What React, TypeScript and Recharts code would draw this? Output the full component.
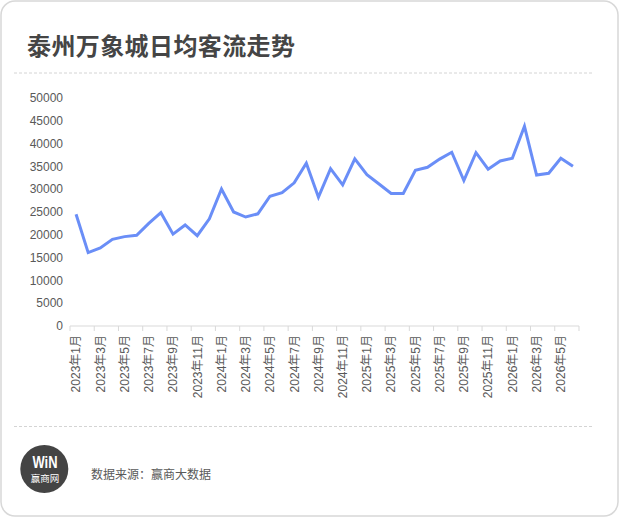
import React from 'react'
import { LineChart, Line, XAxis, YAxis } from 'recharts'

const months = [
  '2023年1月', '2023年2月', '2023年3月', '2023年4月', '2023年5月', '2023年6月',
  '2023年7月', '2023年8月', '2023年9月', '2023年10月', '2023年11月', '2023年12月',
  '2024年1月', '2024年2月', '2024年3月', '2024年4月', '2024年5月', '2024年6月',
  '2024年7月', '2024年8月', '2024年9月', '2024年10月', '2024年11月', '2024年12月',
  '2025年1月', '2025年2月', '2025年3月', '2025年4月', '2025年5月', '2025年6月',
  '2025年7月', '2025年8月', '2025年9月', '2025年10月', '2025年11月', '2025年12月',
  '2026年1月', '2026年2月', '2026年3月', '2026年4月', '2026年5月', '2026年6月',
]

const visitors = [
  24500, 16100, 17100, 19000, 19600, 19900,
  22500, 24850, 20150, 22150, 19800, 23500,
  30050, 25000, 23900, 24600, 28450, 29250,
  31400, 35700, 28250, 34500, 30950, 36650,
  33200, 31150, 29050, 29050, 34150, 34800,
  36600, 38100, 31900, 38000, 34400, 36200,
  36800, 43800, 33100, 33500, 36800, 35050,
]

const yTicks = [0, 5000, 10000, 15000, 20000, 25000, 30000, 35000, 40000, 45000, 50000]

const data = months.map((m, i) => ({ month: m, visitors: visitors[i] }))

const font = "Arial, 'Liberation Sans', 'Noto Sans CJK SC', sans-serif"

function MonthTick({ x, y, payload }: any) {
  const half = payload.offset || 6.06
  const last = payload.index === months.length - 2
  return (
    <g transform={`translate(${x},${y})`}>
      <line x1={-half} y1={0} x2={-half} y2={5} stroke="#d9d9d9" />
      {last && (
        <line x1={half * 3} y1={0} x2={half * 3} y2={5} stroke="#d9d9d9" />
      )}
      <text
        transform="rotate(-90)"
        x={-9}
        y={0}
        dy="0.36em"
        textAnchor="end"
        fill="#595959"
        fontSize={12}
        fontFamily={font}
      >
        {payload.value}
      </text>
    </g>
  )
}

export default function App() {
  return (
    <div
      style={{
        position: 'fixed',
        left: 0,
        top: 0,
        width: 620,
        height: 518,
        background: '#fff',
        fontFamily: font,
      }}
    >
      <div
        style={{
          position: 'absolute',
          left: 27,
          top: 33,
          fontSize: 24,
          lineHeight: '24px',
          letterSpacing: 0.4,
          fontWeight: 700,
          color: '#454545',
          fontFamily: "'Noto Sans CJK SC', sans-serif",
        }}
      >
        泰州万象城日均客流走势
      </div>

      <div style={{ position: 'absolute', left: 0, top: 0 }}>
        <LineChart
          width={620}
          height={420}
          data={data}
          margin={{ top: 98, right: 41, bottom: 14, left: 10 }}
        >
          <XAxis
            dataKey="month"
            scale="band"
            interval={1}
            height={80}
            tickLine={false}
            tickSize={0}
            tickMargin={0}
            axisLine={{ stroke: '#d9d9d9' }}
            tick={<MonthTick />}
          />
          <YAxis
            width={60}
            domain={[0, 50000]}
            ticks={yTicks}
            axisLine={false}
            tickLine={false}
            tickSize={0}
            tickMargin={7}
            tick={{ fill: '#595959', fontSize: 12, fontFamily: font }}
          />
          <Line
            type="linear"
            dataKey="visitors"
            stroke="#6a8ef7"
            strokeWidth={3}
            dot={false}
            activeDot={false}
            isAnimationActive={false}
          />
        </LineChart>
      </div>

      {/* frame, dividers and footer */}
      <svg
        width={620}
        height={518}
        style={{ position: 'absolute', left: 0, top: 0, pointerEvents: 'none' }}
      >
        <path
          d="M 15 1 H 604 A 14 14 0 0 1 618 15 V 502 A 14 14 0 0 1 604 516 H 15 A 14 14 0 0 1 1 502 V 15 A 14 14 0 0 1 15 1 Z"
          fill="none"
          stroke="#d8d8d8"
          strokeWidth={1.5}
        />
        <line x1={14} y1={73} x2={593} y2={73} stroke="#d4d4d4" strokeDasharray="3 2" />
        <line x1={14} y1={426.5} x2={593} y2={426.5} stroke="#d4d4d4" strokeDasharray="3 2" />
        <circle cx={44.3} cy={469} r={24} fill="#444" />
        <text
          x={45}
          y={467.5}
          textAnchor="middle"
          fill="#fff"
          fontSize={16}
          fontWeight={900}
          fontFamily="'Liberation Sans', Arial, sans-serif"
          textLength={25}
          lengthAdjust="spacingAndGlyphs"
        >
          WiN
        </text>
        <text
          x={45}
          y={482}
          textAnchor="middle"
          fill="#fff"
          fontSize={9.5}
          fontFamily="'Noto Sans CJK SC', sans-serif"
        >
          赢商网
        </text>
        <text
          x={91}
          y={478.5}
          fill="#595959"
          fontSize={12}
          fontFamily="'Noto Sans CJK SC', sans-serif"
        >
          数据来源：赢商大数据
        </text>
      </svg>
    </div>
  )
}
